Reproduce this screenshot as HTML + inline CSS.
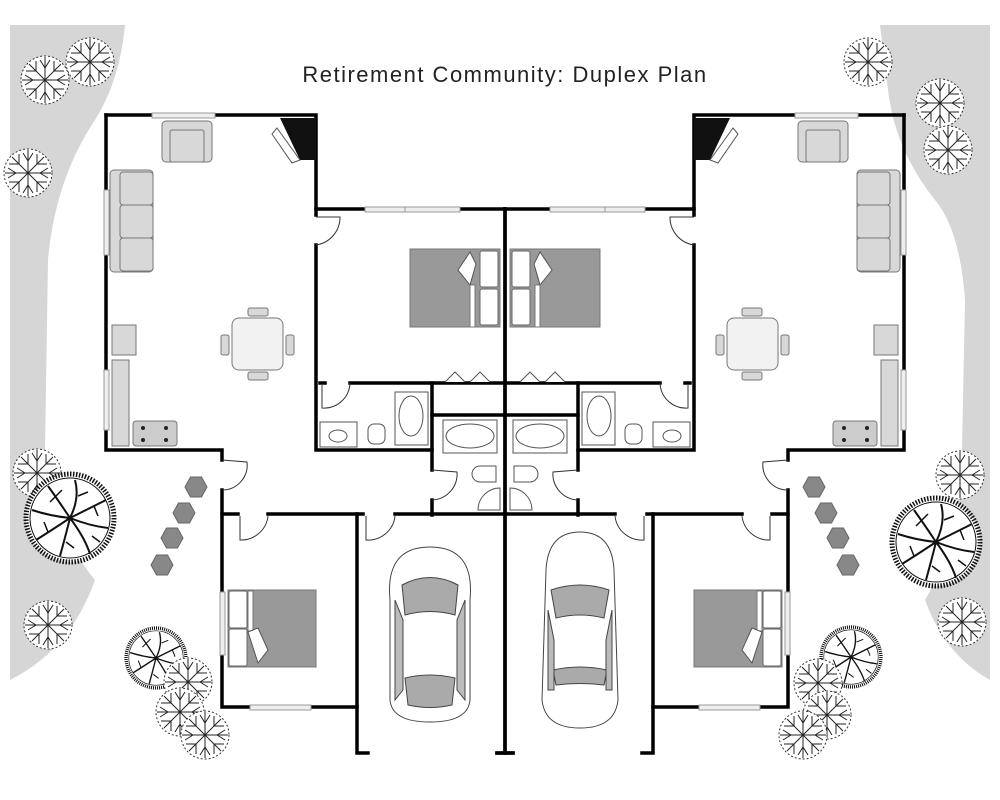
<!DOCTYPE html>
<html><head><meta charset="utf-8"><style>
html,body{margin:0;padding:0;background:#fff;}
svg{display:block;}
</style></head><body>
<svg width="1000" height="800" viewBox="0 0 1000 800" xmlns="http://www.w3.org/2000/svg">
<defs>
<g id="wtree">
  <circle r="24" fill="#fff" stroke="#333" stroke-width="1" stroke-dasharray="2 2"/>
  <g stroke="#222" stroke-width="1" fill="none">
    <path d="M0 0 L0 -23 M0 0 L16 -16 M0 0 L23 0 M0 0 L16 16 M0 0 L0 23 M0 0 L-16 16 M0 0 L-23 0 M0 0 L-16 -16"/>
    <path d="M0 -12 L-5 -20 M0 -12 L5 -20 M12 0 L20 -5 M12 0 L20 5 M0 12 L-5 20 M0 12 L5 20 M-12 0 L-20 -5 M-12 0 L-20 5"/>
    <path d="M9 -9 L9 -19 M9 -9 L19 -9 M9 9 L19 9 M9 9 L9 19 M-9 9 L-9 19 M-9 9 L-19 9 M-9 -9 L-19 -9 M-9 -9 L-9 -19"/>
  </g>
</g>
<g id="dtree">
  <circle r="44" fill="#fff" stroke="#111" stroke-width="5" stroke-dasharray="1.5 1.5"/>
  <circle r="40" fill="none" stroke="#111" stroke-width="1"/>
  <g stroke="#111" stroke-width="2" fill="none">
    <path d="M0 0 Q10 -20 5 -38 M0 0 Q20 -10 36 -18 M0 0 Q20 8 38 10 M0 0 Q15 20 20 36 M0 0 Q-5 20 -10 38 M0 0 Q-18 12 -34 22 M0 0 Q-20 -2 -38 -8 M0 0 Q-12 -18 -22 -32"/>
    <path d="M8 -22 L18 -26 M24 -12 L28 -2 M22 18 L30 24 M-4 24 L4 30 M-22 14 L-26 4 M-20 -16 L-8 -28" stroke-width="1.5"/>
  </g>
</g>
<g id="hex"><polygon points="-11,0 -5.5,-10 5.5,-10 11,0 5.5,10 -5.5,10" fill="#888" stroke="#666"/></g>
</defs>

<path d="M10 25 L125 25 Q120 80 95 120 Q55 180 48 260 L45 450 Q60 540 95 580 Q70 650 10 680 Z" fill="#d6d6d6"/>
<path d="M880 25 L990 25 L990 680 Q945 655 925 600 Q960 540 962 450 L965 300 Q960 230 935 200 Q895 150 888 90 Z" fill="#d6d6d6"/>

<text x="505" y="82" text-anchor="middle" font-family="Liberation Sans, sans-serif" font-size="22" letter-spacing="1.5" fill="#222">Retirement Community: Duplex Plan</text>

<g id="half">
 <g stroke="#000" stroke-width="3.5" fill="none" stroke-linecap="square">
  <path d="M106 115 L316 115 L316 215"/>
  <path d="M316 245 L316 450 L432 450"/>
  <path d="M106 115 L106 450 L222 450 L222 460"/>
  <path d="M222 490 L222 707 L250 707"/>
  <path d="M311 707 L357 707"/>
  <path d="M316 209 L505 209"/>
  <path d="M320 383 L325 383 M350 383 L432 383 L432 470"/>
  <path d="M432 383 L505 383"/>
  <path d="M432 415 L505 415"/>
  <path d="M432 500 L432 515"/>
  <path d="M222 514 L238 514 M268 514 L363 514 M395 514 L505 514"/>
  <path d="M357 514 L357 753 L368 753"/>
  <path d="M505 209 L505 753"/>
  <path d="M497 753 L513 753"/>
 </g>
 <g fill="#eee" stroke="#999" stroke-width="1">
  <rect x="152" y="113" width="63" height="5"/>
  <rect x="104" y="190" width="5" height="65"/>
  <rect x="104" y="370" width="5" height="60"/>
  <rect x="365" y="207" width="55" height="5"/>
  <rect x="405" y="207" width="55" height="5"/>
  <rect x="220" y="592" width="5" height="63"/>
  <rect x="250" y="705" width="61" height="5"/>
 </g>
 <g fill="none" stroke="#333" stroke-width="1">
  <path d="M316 217 L340 217 A28 28 0 0 1 316 245"/>
  <path d="M322 385 L322 408 A26 26 0 0 0 350 383"/>
  <path d="M222 460 L247 462 A25 25 0 0 1 222 490"/>
  <path d="M432 470 L457 472 A26 26 0 0 1 432 500"/>
  <path d="M240 516 L240 540 A27 27 0 0 0 268 516"/>
  <path d="M366 516 L366 540 A27 27 0 0 0 395 516"/>
 </g>
 <g fill="#d8d8d8" stroke="#777" stroke-width="1">
  <rect x="162" y="121" width="50" height="41" rx="4"/>
  <rect x="170" y="130" width="34" height="32" rx="2"/>
  <rect x="110" y="170" width="43" height="102" rx="4"/>
  <rect x="120" y="172" width="33" height="33" rx="3"/>
  <rect x="120" y="205" width="33" height="33" rx="3"/>
  <rect x="120" y="238" width="33" height="33" rx="3"/>
  <rect x="112" y="325" width="24" height="30"/>
  <rect x="112" y="360" width="17" height="86"/>
  <rect x="133" y="421" width="44" height="25" rx="3" fill="#ccc"/>
  <rect x="232" y="318" width="51" height="52" rx="7" fill="#f2f2f2"/>
  <rect x="248" y="308" width="20" height="8" rx="2"/>
  <rect x="248" y="372" width="20" height="8" rx="2"/>
  <rect x="221" y="335" width="8" height="20" rx="2"/>
  <rect x="286" y="335" width="8" height="20" rx="2"/>
 </g>
 <g fill="#222"><circle cx="143" cy="428" r="2"/><circle cx="143" cy="440" r="2"/><circle cx="166" cy="428" r="2"/><circle cx="166" cy="440" r="2"/></g>
 <polygon points="280,118 316,118 316,160 300,160" fill="#111"/>
 <polygon points="277,128 300,160 292,163 272,134" fill="#fff" stroke="#555"/>
 <rect x="410" y="249" width="90" height="78" fill="#999" stroke="#777"/>
 <rect x="480" y="251" width="18" height="36" rx="2" fill="#fff" stroke="#666"/>
 <rect x="480" y="289" width="18" height="36" rx="2" fill="#fff" stroke="#666"/>
 <polygon points="458,270 470,252 476,264 470,285" fill="#fff" stroke="#555"/>
 <rect x="470" y="285" width="5" height="42" fill="#fff" stroke="#777"/>
 <g fill="#fff" stroke="#555" stroke-width="1">
  <rect x="395" y="392" width="33" height="53"/>
  <ellipse cx="411" cy="416" rx="12" ry="20"/>
  <rect x="320" y="422" width="37" height="25"/>
  <ellipse cx="338" cy="436" rx="9" ry="6"/>
  <rect x="368" y="424" width="17" height="20" rx="6"/>
  <rect x="443" y="420" width="54" height="33"/>
  <ellipse cx="470" cy="436" rx="24" ry="12"/>
  <path d="M480 466 L496 466 L496 482 L480 482 A8 8 0 0 1 480 466Z"/>
  <path d="M500 510 L478 510 A22 22 0 0 1 500 488 Z"/>
  <path d="M445 382 L455 372 L465 382 M470 382 L480 372 L490 382"/>
 </g>
 <rect x="228" y="590" width="88" height="77" fill="#999" stroke="#777"/>
 <rect x="229" y="591" width="18" height="37" rx="2" fill="#fff" stroke="#666"/>
 <rect x="229" y="629" width="18" height="37" rx="2" fill="#fff" stroke="#666"/>
 <rect x="248" y="591" width="5" height="40" fill="#fff" stroke="#777"/>
 <polygon points="248,632 258,628 268,650 258,663" fill="#fff" stroke="#555"/>
 <use href="#hex" x="196" y="487"/><use href="#hex" x="184" y="513"/><use href="#hex" x="172" y="538"/><use href="#hex" x="162" y="565"/>
</g>
<use href="#half" transform="translate(1010,0) scale(-1,1)"/>

<g stroke="#444" stroke-width="1">
 <path d="M430 547 Q475 547 470 600 L470 700 Q468 722 430 722 Q392 722 390 700 L390 600 Q385 547 430 547Z" fill="#fff"/>
 <path d="M402 585 Q430 570 458 585 L455 615 Q430 608 405 615Z" fill="#aaa"/>
 <path d="M405 678 Q430 672 455 678 L452 705 Q430 710 408 705Z" fill="#aaa"/>
 <path d="M395 600 L403 620 L403 690 L395 700Z M465 600 L457 620 L457 690 L465 700Z" fill="#bbb"/>
 <path d="M580 532 Q612 532 614 570 L618 700 Q615 728 580 728 Q545 728 542 700 L546 570 Q548 532 580 532Z" fill="#fff"/>
 <path d="M551 590 Q580 580 609 590 L604 618 Q580 612 556 618Z" fill="#aaa"/>
 <path d="M553 670 Q580 664 607 670 L604 685 Q580 682 556 685Z" fill="#aaa"/>
 <path d="M548 610 L554 640 L554 690 L548 690Z M612 610 L606 640 L606 690 L612 690Z" fill="#bbb"/>
</g>

<use href="#wtree" x="90" y="62"/><use href="#wtree" x="45" y="80"/><use href="#wtree" x="28" y="173"/>
<use href="#wtree" x="37" y="473"/><use href="#dtree" x="70" y="518"/><use href="#wtree" x="48" y="625"/>
<use href="#dtree" transform="translate(156,658) scale(0.68)"/>
<use href="#wtree" x="188" y="682"/><use href="#wtree" x="180" y="712"/><use href="#wtree" x="205" y="735"/>
<use href="#wtree" x="868" y="62"/><use href="#wtree" x="940" y="103"/><use href="#wtree" x="948" y="150"/>
<use href="#wtree" x="960" y="475"/><use href="#dtree" x="936" y="542"/><use href="#wtree" x="962" y="622"/>
<use href="#dtree" transform="translate(851,657) scale(0.68)"/>
<use href="#wtree" x="818" y="683"/><use href="#wtree" x="827" y="715"/><use href="#wtree" x="803" y="735"/>
</svg>
</body></html>
